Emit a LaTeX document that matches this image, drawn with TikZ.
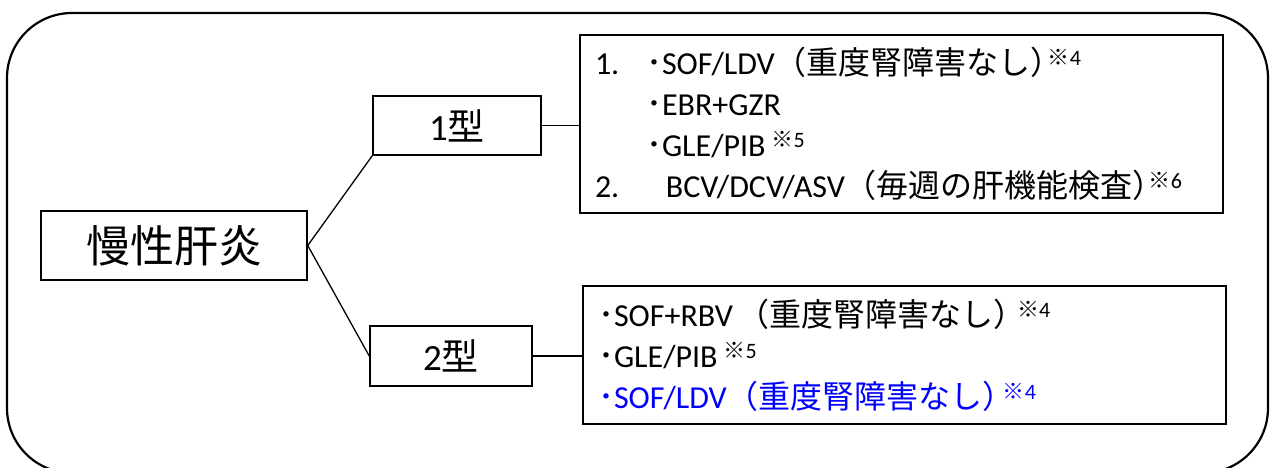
\documentclass[tikz,border=0pt]{standalone}
\usepackage{fontspec}
\usepackage{tikz}
\setmainfont{Carlito}
\newfontfamily\jafont{Noto Sans CJK JP}
\newcommand{\ja}[1]{{\jafont #1}}
\newcommand{\bul}{{\jafont ･}}
\newcommand{\kome}[2][6pt]{\hspace{#1}\raisebox{9pt}{\fontsize{22}{22}\selectfont\ja{※}#2}}

\begin{document}
\begin{tikzpicture}[
          x=1pt,y=-1pt,
          box/.style={draw,line width=1.5pt,inner sep=0pt},
          catbox/.style={box,font=\jafont\fontsize{44}{44}\selectfont},
          typebox/.style={box,font=\fontsize{37}{37}\selectfont},
          listbox/.style={box,align=left,inner xsep=15pt,font=\fontsize{32}{41}\selectfont},
          link/.style={line width=1.3pt}
          ]
          \useasboundingbox (0,0) rectangle (1272,467);
          % the frame
          \draw[line width=2.2pt,rounded corners=65pt] (7,13) rectangle (1268,473);

          % the disease and its types
          \node[catbox,minimum width=266pt,minimum height=69pt] (main) at (174,245.5) {慢性肝炎};
          \node[typebox,minimum width=168pt,minimum height=59pt] (t1) at (457,125.5) {1\ja{型}};
          \node[typebox,minimum width=162pt,minimum height=60pt] (t2) at (451,356) {2\ja{型}};

          % the drug lists
          \node[listbox,text width=613pt,minimum height=178pt] (list1) at (901.5,124) {%
            \makebox[51pt][l]{1.}\bul SOF/LDV\ja{（重度腎障害なし）}\kome[-15pt]{4}\\
            \makebox[51pt]{}\bul EBR+GZR\\
            \makebox[51pt]{}\bul GLE/PIB\kome{5}\\
            \makebox[51pt][l]{2.}\hspace{20pt}BCV/DCV/ASV\ja{（毎週の肝機能検査）}\kome[-16pt]{6}};
          \node[listbox,text width=613pt,minimum height=138pt] (list2) at (904.5,355) {%
            \bul SOF+RBV\hspace{4pt}\ja{（重度腎障害なし）}\kome[-8pt]{4}\\
            \bul GLE/PIB\kome{5}\\
            \textcolor{blue}{\bul SOF/LDV\ja{（重度腎障害なし）}\kome[-12pt]{4}}};

          % the edges
          \foreach \from/\to in {main.east/t1.south west,main.east/t2.west}
            \draw[link] (\from) -- (\to);
          \draw[link] (t1.east) -- (t1.east -| list1.west);
          \draw[link] (t2.east) -- (t2.east -| list2.west);
\end{tikzpicture}
\end{document}
